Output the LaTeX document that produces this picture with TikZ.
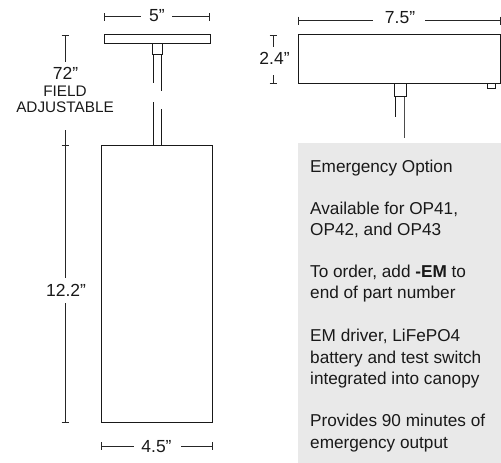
\documentclass[tikz,border=0pt]{standalone}
\usepackage{fontspec}
\setmainfont{Liberation Sans}
\definecolor{panel}{HTML}{E9E9E9}
\tikzset{
  x=1pt,y=-1pt,
  outline/.style={draw=black!90,line width=1pt},
  dimline/.style={draw=black!85,line width=0.9pt},
  dimtext/.style={inner sep=0pt,text=black!90,font=\fontsize{17.5}{17.5}\selectfont},
  smalltext/.style={inner sep=0pt,align=center,text=black!90,font=\fontsize{15.3}{15.3}\selectfont},
  paneltext/.style={inner sep=0pt,anchor=base west,text=black!90,font=\fontsize{17.2}{17.2}\selectfont},
}
\begin{document}
\begin{tikzpicture}
\useasboundingbox (0,0) rectangle (501,463);
\fill[panel] (298,143) rectangle (501,463);
% left fixture
\draw[outline] (104,34.5) rectangle (210,43);
\draw[outline] (152,43) rectangle (162.5,54);
\draw[outline] (153,54) -- (153,83);
\draw[outline] (161,54) -- (161,91);
\draw[outline] (153,102) -- (153,145);
\draw[outline] (161,109) -- (161,145);
\draw[outline] (101.5,145) rectangle (212.5,422);
% right fixture
\draw[outline] (298.3,34.5) rectangle (500.5,83);
\draw[outline] (394,83) rectangle (406,96.5);
\draw[outline] (395.5,96.5) -- (395.5,117);
\draw[line width=1pt,black!70] (404,96.5) -- (404,138);
\draw[outline] (487,83) rectangle (495.5,88.5);
% dimension: 5
\node[dimtext] (d5) at (157,16) {5”};
\draw[dimline] (104.5,13) -- (104.5,20.5);
\draw[dimline] (209.5,13) -- (209.5,20.5);
\draw[dimline] (104.5,16.7) -- (141,16.7);
\draw[dimline] (172,16.7) -- (209.5,16.7);
% dimension: 7.5
\node[dimtext] (d75) at (400,18) {7.5”};
\draw[dimline] (298,16.5) -- (298,24.5);
\draw[dimline] (500.5,16.5) -- (500.5,24.5);
\draw[dimline] (298,20.5) -- (373,20.5);
\draw[dimline] (425,20.5) -- (500.5,20.5);
% dimension: 2.4
\node[dimtext] (d24) at (274.5,58.5) {2.4”};
\draw[dimline] (269.5,35) -- (277,35);
\draw[dimline] (273,35) -- (273,47);
\draw[dimline] (269.5,83) -- (277,83);
\draw[dimline] (273,75) -- (273,83);
% dimension: 72
\node[dimtext] (d72) at (65.5,73) {72”};
\node[smalltext] (field) at (65,91.5) {FIELD};
\node[smalltext] (adj) at (65,107) {ADJUSTABLE};
\draw[dimline] (61.5,35) -- (69.3,35);
\draw[dimline] (65.3,35) -- (65.3,62);
\draw[dimline] (65.3,130) -- (65.3,145);
\draw[dimline] (61.5,145) -- (69.3,145);
% dimension: 12.2
\node[dimtext] (d122) at (66,290) {12.2”};
\draw[dimline] (65.3,145) -- (65.3,278);
\draw[dimline] (65.3,303) -- (65.3,422);
\draw[dimline] (61.5,422) -- (69.3,422);
% dimension: 4.5
\node[dimtext] (d45) at (156.5,447) {4.5”};
\draw[dimline] (101.7,442) -- (101.7,450);
\draw[dimline] (212.5,442) -- (212.5,450);
\draw[dimline] (101.7,446) -- (134,446);
\draw[dimline] (181,446) -- (212.5,446);
% panel text
\node[paneltext] (t1) at (310,172) {Emergency Option};
\node[paneltext] (t2) at (310,214) {Available for OP41,};
\node[paneltext] (t3) at (310,235) {OP42, and OP43};
\node[paneltext] (t4) at (310,277.5) {To order, add \textbf{-EM} to};
\node[paneltext] (t5) at (310,298) {end of part number};
\node[paneltext] (t6) at (310,341.5) {EM driver, LiFePO4};
\node[paneltext] (t7) at (310,363) {battery and test switch};
\node[paneltext] (t8) at (310,384) {integrated into canopy};
\node[paneltext] (t9) at (310,426.5) {Provides 90 minutes of};
\node[paneltext] (t10) at (310,448) {emergency output};
\end{tikzpicture}
\end{document}
